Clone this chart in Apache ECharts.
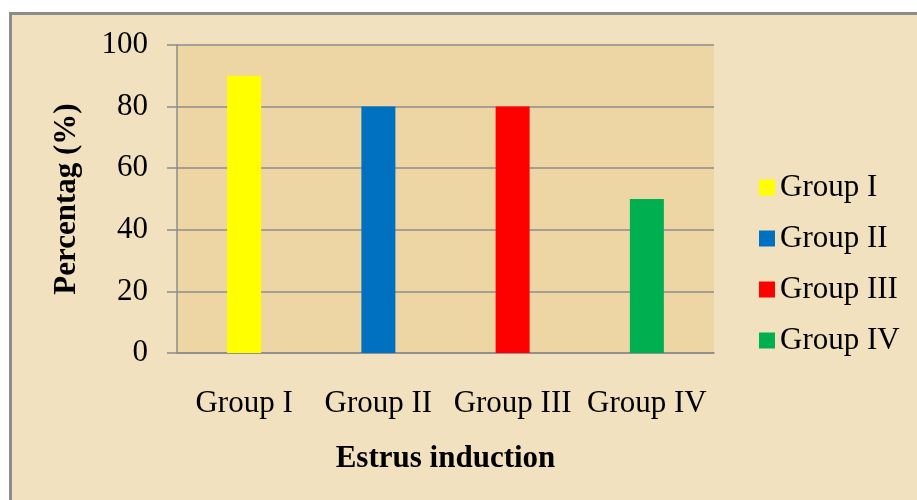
<!DOCTYPE html>
<html><head><meta charset="utf-8">
<script src="https://cdn.jsdelivr.net/npm/echarts@6/dist/echarts.min.js"></script>
<style>html,body{margin:0;padding:0;background:#fff}#c{width:917px;height:500px}</style>
</head><body><div id="c"></div>
<script>
const categories = ['Group I', 'Group II', 'Group III', 'Group IV'];
const values = [90, 80, 80, 50];
const yTicks = [0, 20, 40, 60, 80, 100];
const barColors = ['#FFFF00', '#0070C0', '#FF0000', '#00B050'];

const font = 'Liberation Serif, Times New Roman, serif';
const chart = echarts.init(document.getElementById('c'), null, {renderer: 'canvas'});
const series = categories.map((name, i) => ({
  name: name,
  type: 'bar',
  stack: 'all',
  barWidth: 34,
  itemStyle: {color: barColors[i]},
  data: categories.map((c, j) => j === i ? values[i] : '-')
}));
chart.setOption({
  animation: false,
  backgroundColor: '#ffffff',
  graphic: [{
    type: 'rect', z: -10, silent: true,
    shape: {x: 10.5, y: 13.5, width: 920, height: 500},
    style: {fill: '#f1e1be', stroke: '#8c8c8c', lineWidth: 3}
  }],
  grid: {left: 177, top: 45, width: 537, height: 308, show: true, backgroundColor: '#edd6a3', borderWidth: 0},
  legend: {
    orient: 'vertical', left: 754, top: 167,
    itemWidth: 16, itemHeight: 16, itemGap: 20,
    icon: 'rect',
    textStyle: {fontFamily: font, fontSize: 31, color: '#000', lineHeight: 31},
    data: categories
  },
  xAxis: {
    type: 'category', data: categories,
    axisLine: {lineStyle: {color: '#8c8c8c', width: 1.5}},
    axisTick: {show: false},
    axisLabel: {fontFamily: font, fontSize: 31, color: '#000', margin: 35, interval: 0, hideOverlap: false},
    name: 'Estrus induction', nameLocation: 'middle', nameGap: 90,
    nameTextStyle: {fontFamily: font, fontSize: 31, fontWeight: 'bold', color: '#000'}
  },
  yAxis: {
    type: 'value', min: yTicks[0], max: yTicks[yTicks.length - 1], interval: 20,
    axisLine: {show: true, lineStyle: {color: '#8c8c8c', width: 1.5}},
    axisTick: {show: true, length: 10, lineStyle: {color: '#8c8c8c', width: 1.5}},
    splitLine: {lineStyle: {color: '#8c8c8c', width: 1.5}},
    axisLabel: {fontFamily: font, fontSize: 31, color: '#000', margin: 29},
    name: 'Percentag (%)', nameLocation: 'middle', nameGap: 95, nameRotate: 90,
    nameTextStyle: {fontFamily: font, fontSize: 31, fontWeight: 'bold', color: '#000'}
  },
  series: series
});
</script></body></html>
